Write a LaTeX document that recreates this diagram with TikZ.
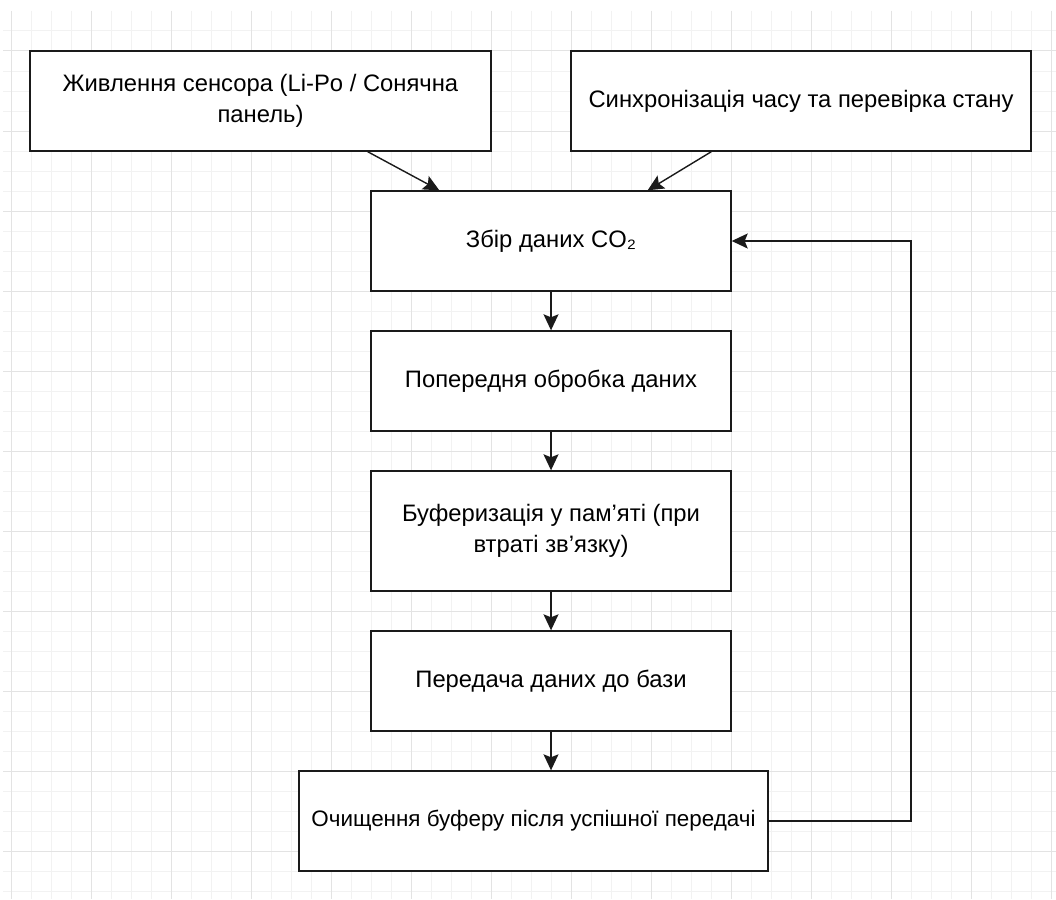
\documentclass[tikz,border=0pt]{standalone}
\usepackage{fontspec}
\setmainfont{Liberation Sans}
\usetikzlibrary{arrows.meta,calc}
\definecolor{gridminor}{HTML}{F2F2F2}
\definecolor{gridmajor}{HTML}{E3E3E3}
\definecolor{ink}{HTML}{1A1A1A}

\begin{document}
\begin{tikzpicture}[x=1pt,y=-1pt,
  box/.style={draw=ink, line width=1.4pt, fill=white, rectangle, inner sep=0pt,
    align=center, font=\fontsize{23.8}{31}\selectfont},
  flow/.style={draw=ink, line width=1.4pt, -{Stealth[length=16pt,width=15pt,inset=3pt]}},
]
\useasboundingbox (0,0) rectangle (1056,899);
\fill[white] (0,0) rectangle (1056,899);

% background grid: fine lines every 20, stronger every 80
\begin{scope}
  \clip (3,11) rectangle (1056,899);
  \foreach \x in {31,51,...,1051} \draw[gridminor, line width=1pt] (\x,11) -- (\x,899);
  \foreach \y in {31,51,...,891} \draw[gridminor, line width=1pt] (3,\y) -- (1056,\y);
  \foreach \x in {11,91,...,1051} \draw[gridmajor, line width=1pt] (\x,11) -- (\x,899);
  \foreach \y in {51,131,...,851} \draw[gridmajor, line width=1pt] (3,\y) -- (1056,\y);
\end{scope}

% process boxes
\node[box, minimum width=461pt, minimum height=100pt] (b1) at (260.5,101)
  {Живлення сенсора (Li-Po / Сонячна\\панель)};
\node[box, minimum width=460pt, minimum height=100pt] (b2) at (801,101)
  {Синхронізація часу та перевірка стану};
\node[box, minimum width=360pt, minimum height=100pt] (b3) at (551,241)
  {Збір даних CO₂};
\node[box, minimum width=360pt, minimum height=100pt] (b4) at (551,381)
  {Попередня обробка даних};
\node[box, minimum width=360pt, minimum height=120pt] (b5) at (551,531)
  {Буферизація у пам’яті (при\\втраті зв’язку)};
\node[box, minimum width=360pt, minimum height=100pt] (b6) at (551,681)
  {Передача даних до бази};
\node[box, minimum width=469pt, minimum height=100pt, font=\fontsize{22.4}{31}\selectfont]
  (b7) at (533.5,821) {Очищення буферу після успішної передачі};

% connectors
\draw[flow] ($(b1.south east)+(-124,0)$) -- ($(b3.north west)+(69,0)$);
\draw[flow] ($(b2.south west)+(141,0)$) -- ($(b3.north east)+(-84,0)$);
\draw[flow] (b3.south) -- (b4.north);
\draw[flow] (b4.south) -- (b5.north);
\draw[flow] (b5.south) -- (b6.north);
\draw[flow] (b6.south) -- (b6.south |- b7.north);
\coordinate (loop) at (911,821);
\draw[flow] (b7.east) -- (loop) |- (b3.east);
\end{tikzpicture}
\end{document}
